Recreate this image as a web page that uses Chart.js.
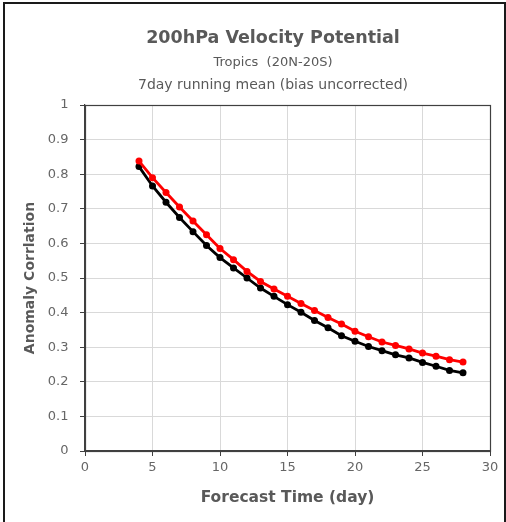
<!DOCTYPE html>
<html>
<head>
<meta charset="utf-8">
<script src="https://cdn.jsdelivr.net/npm/chart.js@4.4.1/dist/chart.umd.min.js"></script>
<style>
  html, body { margin: 0; padding: 0; background: #fff; overflow: hidden; }
  #wrap { position: relative; width: 506px; height: 522px; }
  #frame { position: absolute; left: 3px; top: 2px; width: 499px; height: 540px;
           border-left: 2px solid #1a1a1a; border-top: 2px solid #1a1a1a; border-right: 2px solid #1a1a1a; pointer-events: none; }
  canvas { position: absolute; left: 0; top: 0; }
</style>
</head>
<body>
<div id="wrap">
  <canvas id="c" width="506" height="522"></canvas>
  <div id="frame"></div>
</div>
<script>
const titleLines = ["200hPa Velocity Potential", "Tropics  (20N-20S)", "7day running mean (bias uncorrected)"];
const xAxisTitle = "Forecast Time (day)";
const yAxisTitle = "Anomaly Corrlation";
const days = [4, 5, 6, 7, 8, 9, 10, 11, 12, 13, 14, 15, 16, 17, 18, 19, 20, 21, 22, 23, 24, 25, 26, 27, 28];
const redSeries = [0.838, 0.790, 0.747, 0.705, 0.665, 0.625, 0.585, 0.553, 0.519, 0.490, 0.468, 0.447, 0.426, 0.406, 0.386, 0.367, 0.346, 0.330, 0.315, 0.305, 0.295, 0.283, 0.274, 0.264, 0.257];
const blackSeries = [0.822, 0.766, 0.719, 0.675, 0.634, 0.594, 0.559, 0.529, 0.500, 0.471, 0.447, 0.423, 0.401, 0.377, 0.356, 0.333, 0.317, 0.302, 0.290, 0.278, 0.269, 0.256, 0.245, 0.233, 0.226];
const xTicks = [0, 5, 10, 15, 20, 25, 30];
const yTicks = [0, 0.1, 0.2, 0.3, 0.4, 0.5, 0.6, 0.7, 0.8, 0.9, 1];

const FONT = "'DejaVu Sans', Verdana, sans-serif";

const titlePlugin = {
  id: 'customTitle',
  afterDraw(chart) {
    const ctx = chart.ctx;
    ctx.save();
    ctx.fillStyle = '#595959';
    ctx.textAlign = 'center';
    ctx.textBaseline = 'middle';
    ctx.font = "bold 17.5px " + FONT;
    ctx.fillText(titleLines[0], 273, 38);
    ctx.font = "13px " + FONT;
    ctx.fillText(titleLines[1], 273, 63);
    ctx.font = "14px " + FONT;
    ctx.fillText(titleLines[2], 273, 85);
    ctx.restore();
  }
};

const framePlugin = {
  id: 'plotFrame',
  afterDatasetsDraw(chart) {
    const {ctx, chartArea: a} = chart;
    ctx.save();
    ctx.strokeStyle = '#404040';
    ctx.lineWidth = 1.2;
    ctx.strokeRect(Math.round(a.left) + 0.5, Math.round(a.top) + 0.5, Math.round(a.right - a.left), Math.round(a.bottom - a.top));
    ctx.restore();
  }
};

const bgPlugin = {
  id: 'bg',
  beforeDraw(chart) {
    const ctx = chart.ctx;
    ctx.save();
    ctx.fillStyle = '#fff';
    ctx.fillRect(0, 0, chart.width, chart.height);
    ctx.restore();
  }
};

new Chart(document.getElementById('c'), {
  type: 'line',
  data: {
    datasets: [
      {
        label: 'red',
        data: days.map((d, i) => ({x: d, y: redSeries[i]})),
        borderColor: '#ff0000',
        backgroundColor: '#ff0000',
        borderWidth: 2.8,
        pointRadius: 3.5,
        pointBorderWidth: 0,
        tension: 0
      },
      {
        label: 'black',
        data: days.map((d, i) => ({x: d, y: blackSeries[i]})),
        borderColor: '#000000',
        backgroundColor: '#000000',
        borderWidth: 2.8,
        pointRadius: 3.5,
        pointBorderWidth: 0,
        tension: 0
      }
    ]
  },
  options: {
    responsive: false,
    animation: false,
    devicePixelRatio: 1,
    layout: { padding: { left: 0, right: 16, top: 105, bottom: 0 } },
    plugins: { legend: { display: false }, tooltip: { enabled: false }, title: { display: false } },
    scales: {
      x: {
        type: 'linear',
        min: 0, max: 30,
        afterBuildTicks: (s) => { s.ticks = xTicks.map(v => ({value: v})); },
        afterFit: (s) => { s.height = 71; },
        ticks: { color: '#666666', font: { family: FONT, size: 13 }, padding: 4, callback: (v) => String(v) },
        grid: { color: '#d9d9d9', lineWidth: 1, tickLength: 5, tickColor: '#404040', drawTicks: true },
        border: { display: true, color: '#404040', width: 1.2 },
        title: { display: true, text: xAxisTitle, color: '#595959', font: { family: FONT, size: 15.5, weight: 'bold' }, padding: { top: 0, bottom: 14.7 } }
      },
      y: {
        type: 'linear',
        min: 0, max: 1,
        afterBuildTicks: (s) => { s.ticks = yTicks.map(v => ({value: v})); },
        afterFit: (s) => { s.width = 85; },
        ticks: { color: '#666666', font: { family: FONT, size: 13 }, padding: 11.5, callback: (v) => String(Math.round(v * 10) / 10) },
        grid: { color: '#d9d9d9', lineWidth: 1, tickLength: 5, tickColor: '#404040', drawTicks: true },
        border: { display: true, color: '#404040', width: 1.2 },
        title: { display: true, text: yAxisTitle, color: '#595959', font: { family: FONT, size: 14, weight: 'bold' }, padding: { top: 21.6, bottom: 0 } }
      }
    }
  },
  plugins: [bgPlugin, titlePlugin, framePlugin]
});
</script>
</body>
</html>
